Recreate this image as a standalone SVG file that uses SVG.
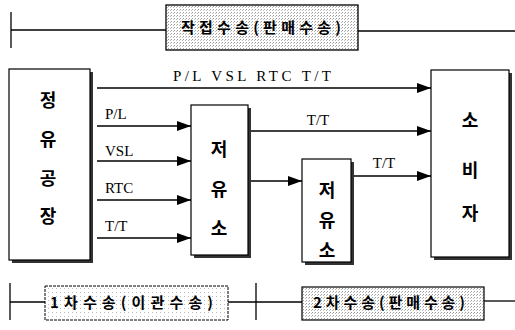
<svg xmlns="http://www.w3.org/2000/svg" width="515" height="330" viewBox="0 0 515 330">
<style>
.ln{stroke:#000;stroke-width:1.3;fill:none}
.bx{fill:#fff;stroke:#000;stroke-width:1.2}
.sh{fill:#333}
.kr{font-family:"Noto Sans CJK KR","Noto Sans",sans-serif;font-weight:bold;font-size:18px;text-anchor:middle;fill:#000}
.lb{font-family:"Liberation Serif","DejaVu Serif",serif;font-size:15px;fill:#000}
.hd{font-family:"Noto Sans CJK KR","Noto Sans",sans-serif;font-weight:bold;font-size:15px;fill:#000}
.ar{stroke:#000;stroke-width:1.3;fill:none;marker-end:url(#ah)}
</style>
<defs>
<marker id="ah" viewBox="0 0 14 10" refX="14" refY="5" markerWidth="14" markerHeight="10" markerUnits="userSpaceOnUse" orient="auto">
<path d="M0,0 L14,5 L0,10 Z" fill="#000"/>
</marker>
<pattern id="dots" width="3" height="3" patternUnits="userSpaceOnUse">
<rect width="3" height="3" fill="#fff"/>
<rect width="1" height="1" fill="#999"/>
<rect x="2" y="1" width="1" height="1" fill="#bbb"/>
</pattern>
<pattern id="dots2" width="4" height="4" patternUnits="userSpaceOnUse">
<rect width="4" height="4" fill="#fff"/>
<rect width="1" height="1" fill="#bbb"/>
</pattern>
</defs>

<g id="header-top">
<line class="ln" x1="11" y1="12" x2="11" y2="48"/>
<line class="ln" x1="11" y1="30" x2="166" y2="30"/>
<line class="ln" x1="358" y1="31" x2="515" y2="31"/>
<rect x="166" y="5" width="192" height="45" fill="url(#dots)" stroke="#000" stroke-width="1.3"/>
<text class="hd" x="181" y="33" font-size="16" textLength="160" lengthAdjust="spacing">작접수송(판매수송)</text>
</g>

<g id="refinery">
<rect class="sh" x="12" y="72" width="81" height="191"/>
<rect class="bx" x="9" y="69" width="81" height="191"/>
<text class="kr" x="48" y="107">정</text>
<text class="kr" x="48" y="146">유</text>
<text class="kr" x="48" y="185">공</text>
<text class="kr" x="48" y="223">장</text>
</g>

<g id="depot1">
<rect class="sh" x="194" y="108" width="57" height="150"/>
<rect class="bx" x="191" y="105" width="57" height="150"/>
<text class="kr" x="219" y="156">저</text>
<text class="kr" x="219" y="196">유</text>
<text class="kr" x="219" y="235">소</text>
</g>

<g id="depot2">
<rect class="sh" x="305" y="162" width="49" height="103"/>
<rect class="bx" x="302" y="159" width="49" height="103"/>
<text class="kr" x="327" y="197">저</text>
<text class="kr" x="327" y="227">유</text>
<text class="kr" x="327" y="257">소</text>
</g>

<g id="consumer">
<rect class="sh" x="434" y="73" width="78" height="187"/>
<rect class="bx" x="431" y="70" width="78" height="187"/>
<text class="kr" x="470" y="127">소</text>
<text class="kr" x="470" y="177">비</text>
<text class="kr" x="470" y="220">자</text>
</g>

<g id="connectors">
<path class="ar" d="M97,88 H431"/>
<path class="ar" d="M97,126 H191"/>
<path class="ar" d="M97,161 H191"/>
<path class="ar" d="M97,200 H191"/>
<path class="ar" d="M97,238 H191"/>
<path class="ar" d="M251,131 H431"/>
<path class="ar" d="M251,181 H302"/>
<path class="ar" d="M354,176 H431"/>
<text class="lb" x="173" y="81" font-size="16" textLength="158" lengthAdjust="spacing">P/L VSL RTC T/T</text>
<text class="lb" x="105" y="119">P/L</text>
<text class="lb" x="105" y="156">VSL</text>
<text class="lb" x="105" y="193">RTC</text>
<text class="lb" x="105" y="231">T/T</text>
<text class="lb" x="318" y="125" text-anchor="middle">T/T</text>
<text class="lb" x="384" y="168" text-anchor="middle">T/T</text>
</g>

<g id="header-bottom">
<line class="ln" x1="10" y1="283" x2="10" y2="320"/>
<line class="ln" x1="10" y1="302" x2="45" y2="302"/>
<line class="ln" x1="228" y1="302" x2="302" y2="302"/>
<line class="ln" x1="256" y1="283" x2="256" y2="320"/>
<line class="ln" x1="484" y1="301" x2="515" y2="301"/>
<rect x="45" y="286" width="183" height="34" fill="url(#dots2)" stroke="#000" stroke-width="1" stroke-dasharray="3,1"/>
<text class="hd" x="50" y="308" textLength="163" lengthAdjust="spacing">1차수송(이관수송)</text>
<rect x="302" y="287" width="182" height="33" fill="url(#dots)" stroke="#000" stroke-width="1.2"/>
<text class="hd" x="313" y="308" textLength="152" lengthAdjust="spacing">2차수송(판매수송)</text>
</g>
</svg>
